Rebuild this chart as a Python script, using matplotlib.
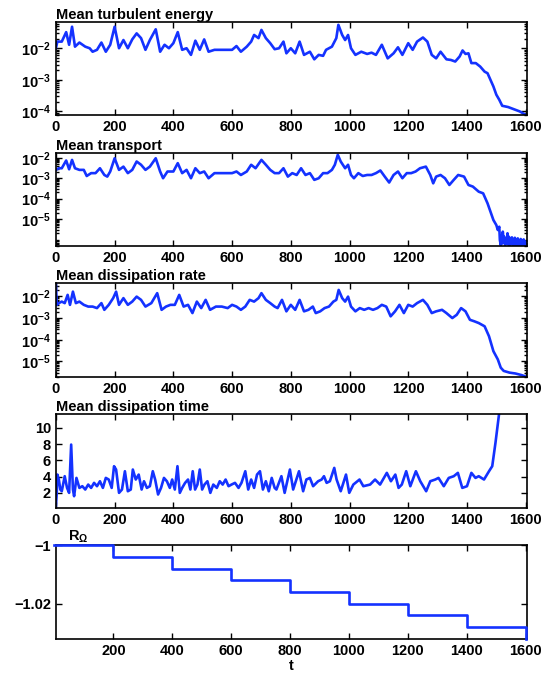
import numpy as np
import matplotlib
matplotlib.use('Agg')
import matplotlib.pyplot as plt
from matplotlib.ticker import FixedLocator, FixedFormatter, LogLocator, NullFormatter

plt.rcParams['font.family'] = ['Liberation Sans', 'DejaVu Sans']
plt.rcParams['font.weight'] = 'bold'
plt.rcParams['font.size'] = 10
plt.rcParams['mathtext.fontset'] = 'custom'
plt.rcParams['mathtext.rm'] = 'Liberation Sans:bold'
plt.rcParams['mathtext.bf'] = 'Liberation Sans:bold'
plt.rcParams['mathtext.it'] = 'Liberation Sans:bold'
plt.rcParams['mathtext.default'] = 'bf'

# mean turbulent energy (log10 values)
t_energy = [0, 5, 20, 35, 45, 55, 65, 80, 100, 115, 125, 140, 155, 170, 185, 200, 215, 230, 245,
            260, 275, 290, 305, 320, 340, 355, 370, 385, 400, 415, 430, 445, 460, 475, 490, 505,
            520, 540, 560, 580, 600, 615, 630, 650, 665, 675, 690, 700, 715, 730, 745, 760, 775,
            785, 800, 815, 830, 845, 865, 880, 895, 910, 920, 940, 955, 962, 975, 985, 995, 1005,
            1020, 1040, 1060, 1075, 1090, 1110, 1130, 1150, 1165, 1180, 1200, 1215, 1230, 1250,
            1265, 1280, 1295, 1310, 1330, 1345, 1360, 1375, 1385, 1395, 1405, 1415, 1430, 1445,
            1460, 1470, 1480, 1490, 1500, 1510, 1520, 1540, 1560, 1580, 1600]
energy_log = [-2.00, -1.79, -1.79, -1.49, -1.89, -1.32, -1.95, -1.82, -1.95, -2.00, -2.11, -2.05,
              -1.82, -2.11, -1.89, -1.32, -2.00, -1.74, -2.00, -1.72, -1.53, -1.68, -2.05, -1.74,
              -1.40, -2.11, -1.89, -2.00, -1.84, -1.49, -2.05, -2.00, -2.21, -1.76, -2.05, -1.72,
              -2.11, -2.05, -2.05, -2.05, -2.05, -1.93, -2.11, -1.95, -1.79, -1.58, -1.68, -1.42,
              -1.68, -1.84, -2.03, -2.00, -1.79, -2.16, -2.00, -2.16, -1.79, -2.21, -2.11, -2.35,
              -2.21, -2.24, -2.05, -1.95, -1.68, -1.26, -1.58, -1.74, -1.58, -2.00, -2.21, -2.11,
              -2.18, -2.14, -2.21, -1.89, -2.32, -2.16, -1.97, -2.21, -1.84, -2.05, -1.79, -1.66,
              -1.79, -2.21, -2.32, -2.11, -2.35, -2.37, -2.42, -2.26, -2.07, -2.18, -2.16, -2.47,
              -2.47, -2.58, -2.74, -2.79, -3.00, -3.21, -3.47, -3.63, -3.82, -3.86, -3.93, -4.00,
              -4.11]

# mean transport (log10 values)
t_transport = [0, 10, 20, 35, 45, 55, 65, 80, 95, 105, 120, 135, 150, 165, 175, 185, 200, 215,
               230, 245, 260, 275, 290, 305, 320, 340, 355, 365, 380, 400, 415, 430, 445, 460,
               475, 490, 505, 520, 540, 560, 580, 600, 615, 630, 650, 665, 680, 700, 715, 730,
               745, 760, 775, 790, 805, 820, 835, 850, 865, 880, 895, 910, 925, 940, 950, 960,
               970, 985, 995, 1005, 1015, 1030, 1045, 1060, 1075, 1090, 1105, 1120, 1135, 1150,
               1165, 1180, 1195, 1210, 1225, 1240, 1260, 1275, 1285, 1295, 1310, 1325, 1340, 1355,
               1370, 1390, 1405, 1420, 1440, 1455, 1470, 1480, 1490, 1500, 1505, 1510, 1512, 1515,
               1518, 1520, 1522, 1525, 1527, 1530, 1533, 1535, 1538, 1540, 1543, 1545, 1548, 1550,
               1553, 1555, 1558, 1560, 1563, 1565, 1568, 1570, 1573, 1575, 1578, 1580, 1583, 1585,
               1588, 1590, 1593, 1595, 1598, 1600]
transport_log = [-2.59, -2.51, -2.51, -2.13, -2.56, -2.10, -2.51, -2.59, -2.59, -2.89, -2.75,
                 -2.75, -2.51, -2.84, -2.92, -2.67, -2.02, -2.59, -2.43, -2.75, -2.59, -2.18,
                 -2.34, -2.59, -2.43, -2.02, -2.67, -3.00, -2.67, -2.67, -2.26, -2.75, -2.59,
                 -3.00, -2.51, -2.75, -2.67, -3.00, -2.75, -2.75, -2.75, -2.75, -2.67, -2.84,
                 -2.67, -2.34, -2.51, -2.10, -2.34, -2.59, -2.75, -2.75, -2.51, -2.92, -2.75,
                 -2.84, -2.51, -2.84, -2.75, -3.08, -3.00, -2.75, -2.75, -2.59, -2.34, -1.85,
                 -2.18, -2.51, -2.34, -2.84, -3.00, -2.75, -2.89, -2.84, -2.84, -2.75, -2.62,
                 -2.92, -3.21, -2.84, -2.67, -3.00, -2.75, -2.75, -2.67, -2.51, -2.43, -2.84,
                 -3.25, -2.92, -2.84, -3.00, -3.33, -3.08, -2.84, -2.92, -3.33, -3.41, -3.66,
                 -3.74, -4.23, -4.64, -5.05, -5.30,
                 -5.54, -5.38, -6.03, -6.28, -5.79, -6.20, -5.62, -6.11, -5.87, -6.28,
                 -5.95, -6.20, -5.70, -6.25, -5.87, -6.30, -5.95, -6.20, -5.90, -6.28,
                 -6.00, -6.30, -5.92, -6.25, -6.03, -6.30, -5.95, -6.28, -6.05, -6.30,
                 -5.98, -6.25, -6.05, -6.30, -6.00, -6.28, -6.10, -6.30]

# mean dissipation rate (log10 values)
t_dissip = [0, 3, 10, 20, 30, 40, 48, 58, 68, 80, 95, 110, 125, 140, 155, 165, 180, 195, 205,
            215, 230, 245, 260, 275, 290, 305, 325, 345, 360, 375, 390, 405, 420, 435, 450, 465,
            480, 495, 510, 525, 545, 565, 585, 600, 615, 630, 645, 660, 675, 690, 700, 715, 730,
            745, 755, 770, 785, 800, 815, 830, 845, 860, 875, 885, 900, 915, 930, 945, 955, 963,
            975, 985, 995, 1005, 1020, 1035, 1050, 1065, 1080, 1095, 1110, 1125, 1140, 1155,
            1170, 1185, 1200, 1215, 1230, 1250, 1265, 1280, 1295, 1315, 1330, 1350, 1365, 1380,
            1395, 1410, 1425, 1440, 1460, 1475, 1490, 1505, 1515, 1525, 1545, 1565, 1585, 1600]
dissip_log = [-1.40, -2.39, -2.31, -2.24, -2.31, -1.93, -2.39, -1.78, -2.31, -2.24, -2.39, -2.47,
              -2.47, -2.54, -2.31, -2.62, -2.39, -2.08, -1.78, -2.39, -2.08, -2.39, -2.24, -2.01,
              -2.16, -2.47, -2.31, -1.85, -2.62, -2.47, -2.39, -2.39, -1.93, -2.47, -2.39, -2.77,
              -2.24, -2.54, -2.16, -2.62, -2.47, -2.47, -2.54, -2.39, -2.47, -2.62, -2.47, -2.16,
              -2.24, -2.08, -1.85, -2.16, -2.31, -2.47, -2.54, -2.16, -2.69, -2.39, -2.62, -2.16,
              -2.69, -2.62, -2.47, -2.77, -2.69, -2.54, -2.47, -2.24, -2.16, -1.70, -2.08, -2.24,
              -2.01, -2.47, -2.69, -2.54, -2.62, -2.54, -2.62, -2.54, -2.39, -2.47, -2.92, -2.69,
              -2.39, -2.77, -2.39, -2.47, -2.31, -2.16, -2.39, -2.77, -2.69, -2.62, -2.77, -3.00,
              -2.85, -2.54, -2.69, -3.08, -3.15, -3.23, -3.38, -3.84, -4.53, -4.91, -5.29, -5.44,
              -5.52, -5.56, -5.63, -5.70]

# mean dissipation time
t_time = [0, 3, 5, 10, 15, 20, 30, 38, 45, 52, 58, 62, 70, 80, 90, 100, 110, 120, 130, 140, 150,
          160, 170, 180, 190, 198, 205, 215, 225, 235, 245, 255, 262, 272, 282, 292, 300, 310,
          320, 330, 338, 348, 358, 368, 378, 388, 396, 405, 414, 422, 430, 440, 450, 458, 466,
          474, 482, 490, 498, 506, 516, 526, 536, 548, 558, 568, 578, 588, 598, 610, 622, 632,
          645, 655, 665, 675, 685, 695, 705, 715, 725, 735, 745, 751, 768, 779, 797, 808, 828,
          842, 853, 865, 876, 893, 905, 913, 922, 933, 948, 956, 970, 988, 999, 1013, 1034, 1047,
          1070, 1087, 1104, 1127, 1141, 1156, 1167, 1178, 1193, 1207, 1226, 1241, 1261, 1275,
          1292, 1303, 1321, 1338, 1355, 1369, 1384, 1400, 1415, 1429, 1440, 1458, 1475, 1486,
          1497, 1509, 1520]
time_vals = [0.36, 2.0, 4.25, 3.64, 2.41, 2.20, 4.05, 2.61, 2.0, 7.94, 2.41, 1.59, 3.84, 2.61,
             2.82, 2.41, 3.02, 2.61, 3.23, 2.82, 3.43, 2.61, 3.84, 3.64, 2.61, 5.28, 4.87, 2.0,
             2.41, 4.66, 2.20, 2.41, 4.87, 3.64, 4.25, 2.41, 3.43, 2.61, 2.82, 4.66, 3.64, 1.80,
             2.61, 3.84, 3.43, 2.61, 3.64, 2.41, 5.28, 2.0, 2.61, 3.23, 3.64, 2.41, 4.66, 2.41,
             3.02, 4.87, 2.41, 3.02, 3.43, 2.0, 3.02, 2.61, 3.43, 3.02, 3.64, 2.82, 3.02, 3.23,
             2.61, 3.23, 4.66, 2.41, 3.64, 2.61, 4.25, 4.66, 2.41, 3.43, 2.20, 3.84, 2.61, 2.41,
             4.05, 2.0, 4.87, 2.41, 4.66, 2.20, 3.64, 3.84, 2.82, 3.43, 3.64, 4.05, 3.23, 3.43,
             5.07, 3.64, 2.20, 4.25, 2.0, 3.02, 3.64, 2.82, 3.02, 3.64, 3.02, 4.46, 3.43, 4.25,
             2.61, 3.02, 4.66, 2.82, 4.66, 3.43, 2.20, 3.43, 3.64, 3.84, 2.82, 3.84, 4.05, 4.46,
             2.61, 2.82, 4.46, 3.84, 4.05, 3.64, 4.66, 5.28, 8.15, 11.63, 14.0]

# rotation number steps
t_rot = [0, 200, 400, 600, 800, 1000, 1200, 1400, 1600]
rot_vals = [-1.0, -1.004, -1.008, -1.012, -1.016, -1.020, -1.024, -1.028, -1.032]

titles = ['Mean turbulent energy', 'Mean transport', 'Mean dissipation rate',
          'Mean dissipation time']
xticks_main = [0, 200, 400, 600, 800, 1000, 1200, 1400, 1600]
xticks_rot = [200, 400, 600, 800, 1000, 1200, 1400, 1600]

blue = '#1432ff'
lw = 1.9
fig = plt.figure(figsize=(5.48, 6.78), dpi=100)
left, width, height = 0.102, 0.86, 0.138
bottoms = [0.830, 0.637, 0.444, 0.251, 0.058]
axes = [fig.add_axes([left, b, width, height]) for b in bottoms]

for ax in axes:
    ax.tick_params(direction='in', top=True, right=True, which='both', width=1,
                   labelsize=10.5)
    ax.tick_params(which='major', length=4)
    ax.tick_params(which='minor', length=2)
    for s in ax.spines.values():
        s.set_linewidth(1.2)

def logaxis(ax, lo, hi, ticks):
    ax.set_yscale('log')
    ax.set_ylim(10 ** lo, 10 ** hi)
    ax.yaxis.set_major_locator(FixedLocator([10.0 ** k for k in ticks]))
    ax.yaxis.set_major_formatter(FixedFormatter(['$10^{%d}$' % k for k in ticks]))
    ax.yaxis.set_minor_locator(LogLocator(base=10, subs=np.arange(2, 10), numticks=20))
    ax.yaxis.set_minor_formatter(NullFormatter())

ax = axes[0]
ax.plot(t_energy, 10.0 ** np.array(energy_log), color=blue, lw=lw)
logaxis(ax, -4.12, -1.16, [-2, -3, -4])

ax = axes[1]
ax.plot(t_transport, 10.0 ** np.array(transport_log), color=blue, lw=lw)
logaxis(ax, -6.33, -1.74, [-2, -3, -4, -5])

ax = axes[2]
ax.plot(t_dissip, 10.0 ** np.array(dissip_log), color=blue, lw=lw)
logaxis(ax, -5.72, -1.40, [-2, -3, -4, -5])

ax = axes[3]
ax.plot(t_time, time_vals, color=blue, lw=lw)
ax.set_ylim(0.16, 11.67)
ax.set_yticks([2, 4, 6, 8, 10])

for ax, ttl in zip(axes[:4], titles):
    ax.set_xlim(0, 1605)
    ax.set_xticks(xticks_main)
    ax.set_title(ttl, loc='left', fontsize=10.5, fontweight='bold', pad=2)

ax = axes[4]
ax.plot(t_rot, rot_vals, color=blue, lw=lw, drawstyle='steps-post', zorder=3, clip_on=False)
ax.set_xlim(5, 1605)
ax.set_xticks(xticks_rot)
ax.set_ylim(-1.032, -1.0)
ax.set_yticks([-1.0, -1.02])
ax.set_yticklabels(['\u22121', '\u22121.02'])
ax.text(0.025, 1.005, r'R$_\Omega$', transform=ax.transAxes, fontsize=10.5,
        fontweight='bold', va='bottom', ha='left')
ax.set_xlabel('t', fontsize=10.5, fontweight='bold', labelpad=1)

fig.savefig('out.png', dpi=100)
